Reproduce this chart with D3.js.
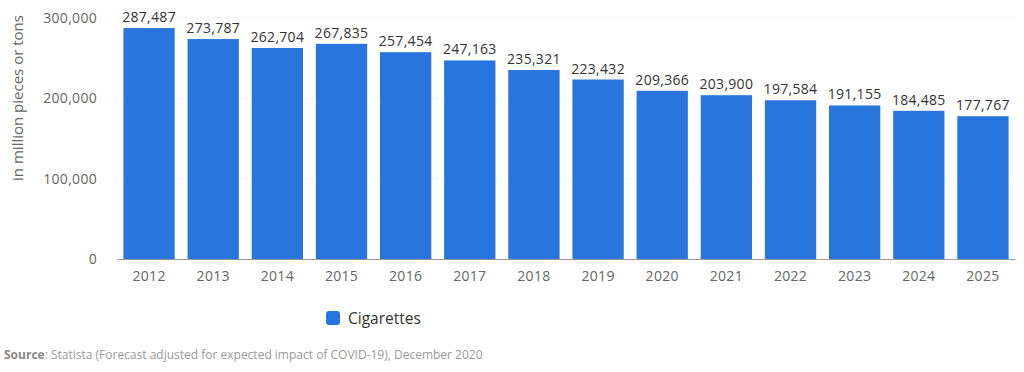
<!DOCTYPE html>
<html>
<head>
<meta charset="utf-8">
<script src="https://cdn.jsdelivr.net/npm/d3@7"></script>
<style>
  body { margin: 0; background: #fff; font-family: "Open Sans", "Noto Sans", sans-serif; }
</style>
</head>
<body>
<div id="chart"></div>
<script>
// Data
const years = ["2012", "2013", "2014", "2015", "2016", "2017", "2018", "2019", "2020", "2021", "2022", "2023", "2024", "2025"];
const cigarettes = [287487, 273787, 262704, 267835, 257454, 247163, 235321, 223432, 209366, 203900, 197584, 191155, 184485, 177767];
const yTicks = [0, 100000, 200000, 300000];

const W = 1024, H = 372;
const margin = {top: 18, right: 9, bottom: 113, left: 117};
const width = W - margin.left - margin.right,
    height = H - margin.top - margin.bottom;

const svg = d3.select("#chart")
    .append("svg")
    .attr("width", W)
    .attr("height", H);

const g = svg.append("g")
    .attr("transform", `translate(${margin.left},${margin.top})`);

const x = d3.scaleBand()
    .domain(years)
    .range([0, width])
    .paddingInner(0.2)
    .paddingOuter(0.1);

const y = d3.scaleLinear()
    .domain([0, 300000])
    .range([height, 0]);

const fmt = d3.format(",");

// gridlines
g.selectAll(".grid")
    .data(yTicks.filter(d => d > 0))
    .enter()
    .append("line")
    .attr("x1", 0)
    .attr("x2", width)
    .attr("y1", d => y(d))
    .attr("y2", d => y(d))
    .attr("stroke", "#e3e3e3")
    .attr("stroke-dasharray", "1,3");

// Y axis
const yAxis = g.append("g")
    .call(d3.axisLeft(y).tickValues(yTicks).tickFormat(fmt).tickSize(0).tickPadding(20));
yAxis.select(".domain").remove();
yAxis.selectAll("text")
    .attr("fill", "#666")
    .style("font-size", "14px")
    .style("letter-spacing", "0.3px")
    .style("font-family", "'Open Sans', sans-serif");

// bars
g.selectAll(".bar")
    .data(cigarettes)
    .enter()
    .append("rect")
    .attr("x", (d, i) => x(years[i]))
    .attr("y", d => y(d))
    .attr("width", x.bandwidth())
    .attr("height", d => height - y(d))
    .attr("fill", "#2876dd");

// value labels
g.selectAll(".val")
    .data(cigarettes)
    .enter()
    .append("text")
    .attr("x", (d, i) => x(years[i]) + x.bandwidth() / 2)
    .attr("y", d => y(d) - 6)
    .attr("text-anchor", "middle")
    .attr("fill", "#333")
    .style("font-size", "14px")
    .style("letter-spacing", "0.3px")
    .text(d => fmt(d));

// X axis
const xAxis = g.append("g")
    .attr("transform", `translate(0,${height})`)
    .call(d3.axisBottom(x).tickSize(0).tickPadding(12));
xAxis.select(".domain").attr("stroke", "#999");
xAxis.selectAll("text")
    .attr("fill", "#666")
    .style("font-size", "14px")
    .style("letter-spacing", "0.3px")
    .style("font-family", "'Open Sans', sans-serif");

// Y axis title
svg.append("text")
    .attr("transform", "translate(23,98) rotate(-90)")
    .attr("text-anchor", "middle")
    .attr("fill", "#666")
    .style("font-size", "15px")
    .text("in million pieces or tons");

// legend
svg.append("rect")
    .attr("x", 326)
    .attr("y", 311)
    .attr("width", 14)
    .attr("height", 14)
    .attr("rx", 3)
    .attr("fill", "#2876dd");
svg.append("text")
    .attr("x", 348)
    .attr("y", 324)
    .attr("fill", "#333")
    .style("font-size", "15.5px")
    .text("Cigarettes");

// source
const src = svg.append("text")
    .attr("x", 4)
    .attr("y", 359)
    .attr("fill", "#999")
    .style("font-size", "12px");
src.append("tspan").style("font-weight", "bold").attr("fill", "#888").text("Source");
src.append("tspan").text(": Statista (Forecast adjusted for expected impact of COVID-19), December 2020");
</script>
</body>
</html>
